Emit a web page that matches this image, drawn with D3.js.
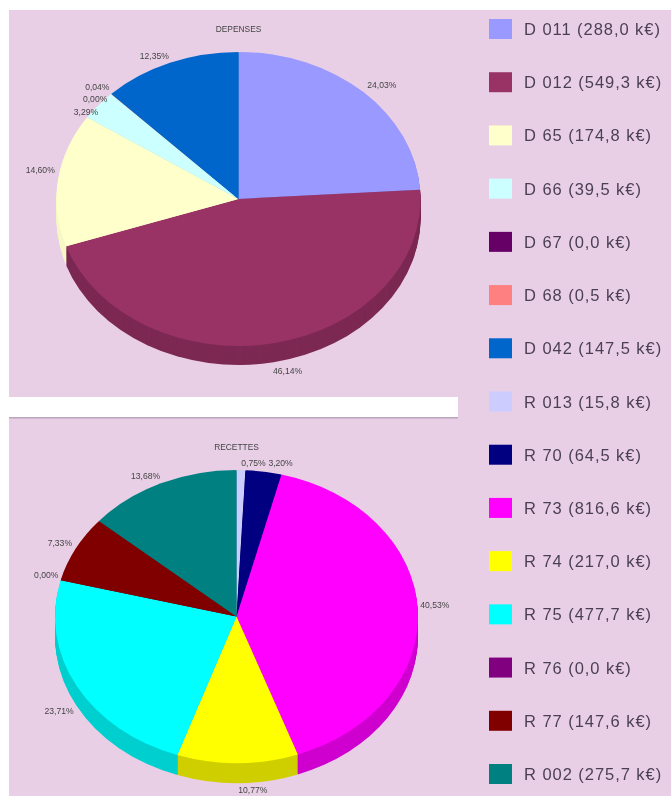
<!DOCTYPE html>
<html>
<head>
<meta charset="utf-8">
<script src="https://cdn.jsdelivr.net/npm/d3@7"></script>
<style>
  body { margin: 0; background: #fff; }
  svg { display: block; filter: blur(0.75px); }
  text { font-family: "Liberation Sans", Arial, sans-serif; }
</style>
</head>
<body>
<svg width="671" height="796"></svg>
<script>
// legend, top to bottom
var legendNames = ["D 011", "D 012", "D 65", "D 66", "D 67", "D 68", "D 042", "R 013", "R 70", "R 73", "R 74", "R 75", "R 76", "R 77", "R 002"];
var legendValues = ["288,0", "549,3", "174,8", "39,5", "0,0", "0,5", "147,5", "15,8", "64,5", "816,6", "217,0", "477,7", "0,0", "147,6", "275,7"];
var colors = ["#9999ff", "#993366", "#ffffcc", "#ccffff", "#660066", "#ff8080", "#0066cc", "#ccccff", "#000080", "#ff00ff", "#ffff00", "#00ffff", "#800080", "#800000", "#008080"];

// pies
var depensesValues = [288.0, 549.3, 174.8, 39.5, 0.0, 0.5, 147.5];
var depensesLabels = ["24,03%", "46,14%", "14,60%", "3,29%", "0,00%", "0,04%", "12,35%"];
var recettesValues = [15.8, 64.5, 816.6, 217.0, 477.7, 0.0, 147.6, 275.7];
var recettesLabels = ["0,75%", "3,20%", "40,53%", "10,77%", "23,71%", "0,00%", "7,33%", "13,68%"];

// small shifts of the percent labels away from their radial position
var depensesShift = [[5, 0], [10, 1], [2, -9], [3, 13], [-2, 11], [0, 0], [-8, 2]];
var recettesShift = [[12, 2], [14, 0], [-3, -4], [15, 0], [0, 12], [5, -3], [2, -2], [-7, 1]];

var bg = "#e9cfe6";
var svg = d3.select("svg");

// background panel, with the white strip between the two pies
svg.append("rect").attr("x", 9).attr("y", 10).attr("width", 662).attr("height", 786).attr("fill", bg);
svg.append("rect").attr("x", 9).attr("y", 397).attr("width", 449).attr("height", 20).attr("fill", "#fff");
svg.append("rect").attr("x", 9).attr("y", 417).attr("width", 449).attr("height", 1.5).attr("fill", "#b9a6bb");

function drawPie(o) {
  var cx = o.cx, cy = o.cy, rx = o.rx, ry = o.ry, depth = o.depth;
  var pie = d3.pie().sort(null)(o.values);
  var arc = d3.arc().innerRadius(0).outerRadius(rx);
  var g = svg.append("g");

  // side of the disc: the same slices stacked downwards, darker
  d3.range(depth, 0, -1).forEach(function(k) {
    g.append("g")
      .attr("transform", "translate(" + cx + "," + (cy + k) + ") scale(1," + (ry / rx) + ")")
      .selectAll("path")
      .data(pie)
      .join("path")
      .attr("d", arc)
      .attr("fill", function(d, i) {
        var c = d3.rgb(o.colors[i]);
        var shade = o.colors[i] == "#ffffcc" ? 0.97 : 0.81; // pale yellow hardly shows a side
        return d3.rgb(c.r * shade, c.g * shade, c.b * shade);
      });
  });

  g.append("g")
    .attr("transform", "translate(" + cx + "," + cy + ") scale(1," + (ry / rx) + ")")
    .selectAll("path")
    .data(pie)
    .join("path")
    .attr("d", arc)
    .attr("fill", function(d, i) { return o.colors[i]; });

  g.append("text")
    .attr("x", cx)
    .attr("y", o.titleY)
    .attr("text-anchor", "middle")
    .attr("font-size", 8.4)
    .attr("fill", "#444")
    .text(o.title);

  g.selectAll("text.pct")
    .data(pie)
    .join("text")
    .attr("class", "pct")
    .attr("text-anchor", "middle")
    .attr("font-size", 8.6)
    .attr("fill", "#444")
    .attr("x", function(d, i) {
      var a = (d.startAngle + d.endAngle) / 2;
      return cx + (rx + 20) * Math.sin(a) + o.shift[i][0];
    })
    .attr("y", function(d, i) {
      var a = (d.startAngle + d.endAngle) / 2;
      var y = cy - (ry + 9) * Math.cos(a) + 3;
      if (Math.cos(a) < 0) y += 18 * -Math.cos(a);
      return y + o.shift[i][1];
    })
    .text(function(d, i) { return o.labels[i]; });
}

drawPie({
  title: "DEPENSES", values: depensesValues, labels: depensesLabels, shift: depensesShift,
  colors: colors.slice(0, 7), cx: 238.5, cy: 199, rx: 182, ry: 147, depth: 19, titleY: 32
});
drawPie({
  title: "RECETTES", values: recettesValues, labels: recettesLabels, shift: recettesShift,
  colors: colors.slice(7), cx: 236.5, cy: 616.5, rx: 181.5, ry: 146.5, depth: 20, titleY: 450
});

// legend
var y = d3.scalePoint().domain(legendNames).range([29, 774]);

var row = svg.append("g").selectAll("g")
  .data(legendNames)
  .join("g")
  .attr("transform", function(d) { return "translate(0," + y(d) + ")"; });

row.append("rect")
  .attr("x", 489)
  .attr("y", -10)
  .attr("width", 23)
  .attr("height", 20)
  .attr("fill", function(d, i) { return colors[i]; });

row.append("text")
  .attr("x", 524)
  .attr("y", 6)
  .attr("font-size", 16.5)
  .attr("letter-spacing", 0.95)
  .attr("fill", "#4a3f55")
  .text(function(d, i) { return d + " (" + legendValues[i] + " k€)"; });
</script>
</body>
</html>
